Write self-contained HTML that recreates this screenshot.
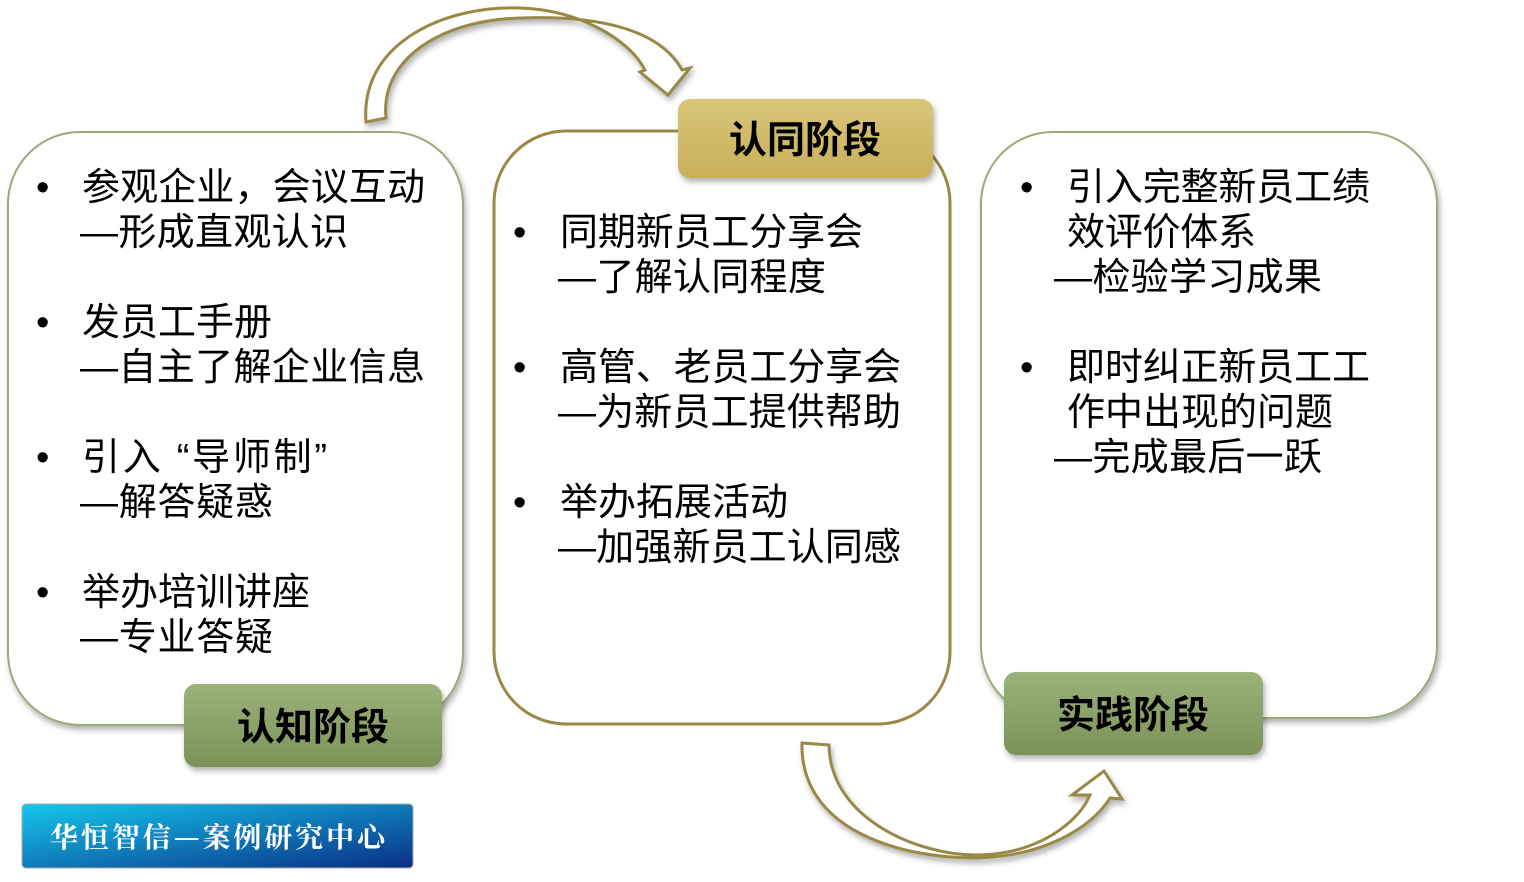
<!DOCTYPE html>
<html><head><meta charset="utf-8"><style>
body{margin:0;background:#fff;}
svg text{font-family:"Liberation Sans","Noto Sans CJK SC",sans-serif;}
</style></head><body>
<svg width="1524" height="877" viewBox="0 0 1524 877" xmlns="http://www.w3.org/2000/svg">
<defs>
<linearGradient id="gg" x1="0" y1="0" x2="0" y2="1"><stop offset="0" stop-color="#9bb27a"/><stop offset="1" stop-color="#7a9258"/></linearGradient>
<linearGradient id="gold" x1="0" y1="0" x2="0" y2="1"><stop offset="0" stop-color="#d9c67a"/><stop offset="1" stop-color="#c8b05a"/></linearGradient>
<linearGradient id="blue" x1="0" y1="0" x2="1" y2="1"><stop offset="0" stop-color="#14c8ec"/><stop offset="1" stop-color="#0a2f86"/></linearGradient>
<filter id="sh" x="-10%" y="-10%" width="130%" height="140%"><feDropShadow dx="2" dy="4" stdDeviation="3" flood-opacity="0.3"/></filter>
</defs>
<rect x="8" y="132" width="455" height="593" rx="72" fill="#fff" stroke="#9aab7a" stroke-width="2" filter="url(#sh)"/>
<rect x="494" y="131" width="456" height="593" rx="72" fill="#fff" stroke="#9a8846" stroke-width="3"/>
<rect x="981" y="132" width="456" height="586" rx="72" fill="#fff" stroke="#9aab7a" stroke-width="2" filter="url(#sh)"/>
<path d="M366,122 C360,40 450,5 520,8 C580,10 630,40 645,70 L640,72 L668,95 L690,68 L682,70 C660,30 600,15 520,18 C440,20 380,60 386,118 Z" fill="#fff" stroke="#9a8846" stroke-width="3" filter="url(#sh)"/>
<path d="M802,743 L829,745 C830,820 920,855 975,855 C1040,855 1080,820 1090,795 L1072,795 L1104,771 L1122,799 L1110,798 C1090,830 1040,857 975,858 C900,858 800,830 802,743 Z" fill="#fff" stroke="#9a8846" stroke-width="3" filter="url(#sh)"/>
<rect x="184" y="684" width="258" height="83" rx="12" fill="url(#gg)" filter="url(#sh)"/>
<text x="313" y="740" font-size="38" font-weight="bold" text-anchor="middle">认知阶段</text>
<rect x="678" y="99" width="255" height="79" rx="12" fill="url(#gold)" filter="url(#sh)"/>
<text x="805" y="153" font-size="38" font-weight="bold" text-anchor="middle">认同阶段</text>
<rect x="1004" y="672" width="259" height="83" rx="12" fill="url(#gg)" filter="url(#sh)"/>
<text x="1133" y="728" font-size="38" font-weight="bold" text-anchor="middle">实践阶段</text>
<rect x="22" y="804" width="391" height="64" rx="4" fill="url(#blue)" stroke="#aaa" stroke-width="1"/>
<text x="50" y="847" font-size="28" fill="#fff" textLength="335" lengthAdjust="spacing" style="font-family:'Noto Serif CJK SC',serif;font-weight:bold">华恒智信—案例研究中心</text>
<g font-size="38" fill="#000">
<text x="36" y="200">•</text><text x="82" y="200" textLength="343">参观企业，会议互动</text><text x="80" y="245" textLength="268">—形成直观认识</text>
<text x="36" y="335">•</text><text x="82" y="335" textLength="190">发员工手册</text><text x="80" y="380" textLength="345">—自主了解企业信息</text>
<text x="36" y="470">•</text><text x="82" y="470" textLength="245">引入 “导师制”</text><text x="80" y="515" textLength="193">—解答疑惑</text>
<text x="36" y="605">•</text><text x="82" y="605" textLength="228">举办培训讲座</text><text x="80" y="650" textLength="193">—专业答疑</text>
<text x="513" y="245">•</text><text x="560" y="245" textLength="303">同期新员工分享会</text><text x="558" y="290" textLength="268">—了解认同程度</text>
<text x="513" y="380">•</text><text x="560" y="380" textLength="341">高管、老员工分享会</text><text x="558" y="425" textLength="343">—为新员工提供帮助</text>
<text x="513" y="515">•</text><text x="560" y="515" textLength="228">举办拓展活动</text><text x="558" y="560" textLength="343">—加强新员工认同感</text>
<text x="1020" y="200">•</text><text x="1067" y="200" textLength="303">引入完整新员工绩</text><text x="1067" y="245" textLength="189">效评价体系</text><text x="1054" y="290" textLength="268">—检验学习成果</text>
<text x="1020" y="380">•</text><text x="1067" y="380" textLength="303">即时纠正新员工工</text><text x="1067" y="425" textLength="266">作中出现的问题</text><text x="1054" y="470" textLength="268">—完成最后一跃</text>
</g>
</svg>
</body></html>
